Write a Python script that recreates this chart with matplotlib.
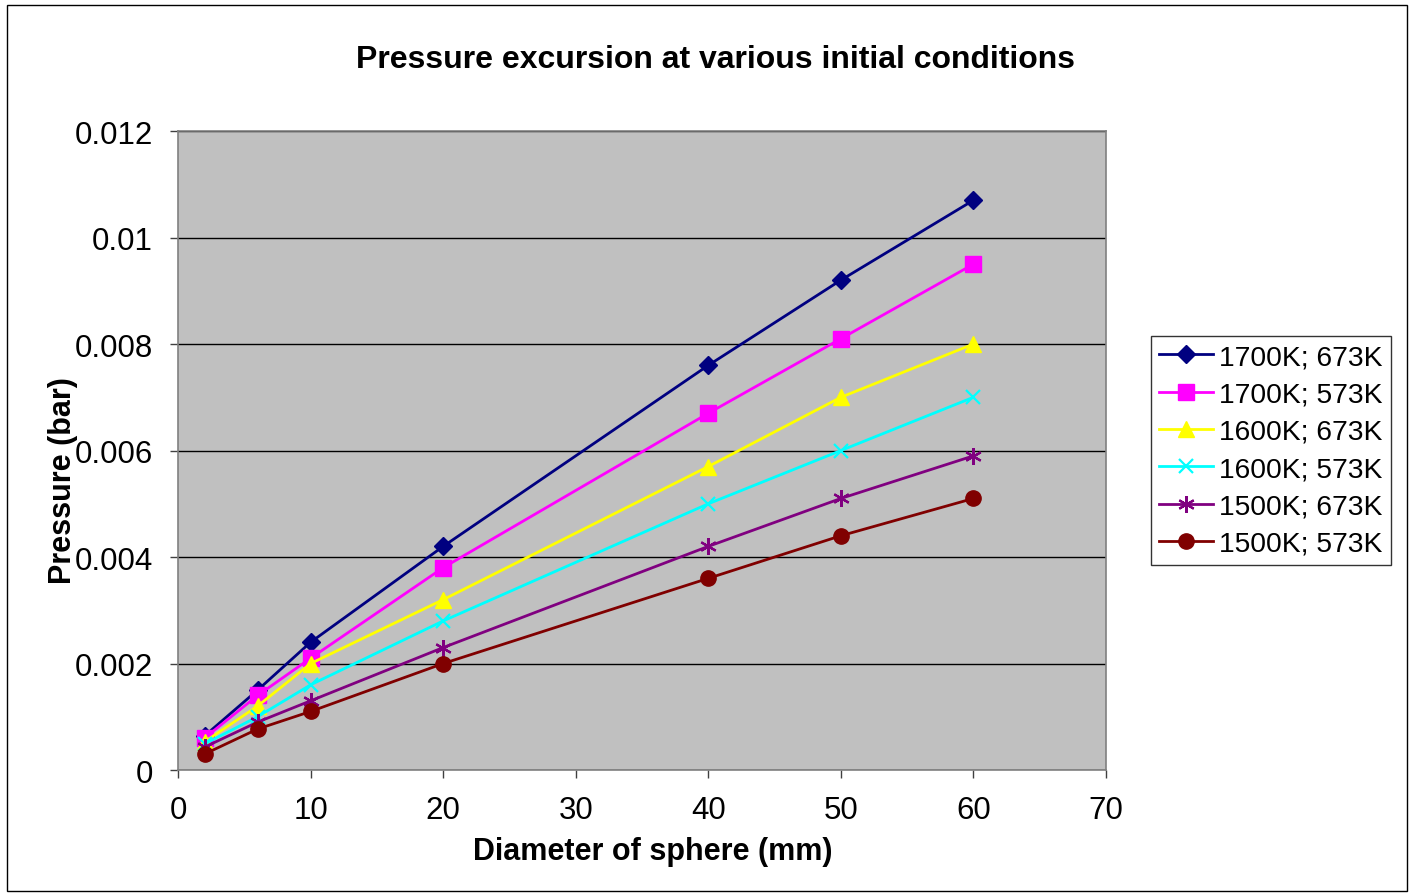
import matplotlib.pyplot as plt
from matplotlib.patches import Rectangle
from matplotlib.ticker import FuncFormatter, MultipleLocator

plt.rcParams['font.family'] = ['Liberation Sans', 'DejaVu Sans']

# diameter of sphere (mm)
diam = [2, 6, 10, 20, 40, 50, 60]

# pressure (bar)
p_1700_673 = [0.00064, 0.0015, 0.0024, 0.0042, 0.0076, 0.0092, 0.0107]
p_1700_573 = [0.00060, 0.0014, 0.0021, 0.0038, 0.0067, 0.0081, 0.0095]
p_1600_673 = [0.00053, 0.0012, 0.0020, 0.0032, 0.0057, 0.0070, 0.0080]
p_1600_573 = [0.00049, 0.0010, 0.0016, 0.0028, 0.0050, 0.0060, 0.0070]
p_1500_673 = [0.00043, 0.0009, 0.0013, 0.0023, 0.0042, 0.0051, 0.0059]
p_1500_573 = [0.00030, 0.00077, 0.0011, 0.0020, 0.0036, 0.0044, 0.0051]

labels = ['1700K; 673K', '1700K; 573K', '1600K; 673K',
          '1600K; 573K', '1500K; 673K', '1500K; 573K']
series = [p_1700_673, p_1700_573, p_1600_673, p_1600_573, p_1500_673, p_1500_573]
colors = ['#000080', '#FF00FF', '#FFFF00', '#00FFFF', '#800080', '#800000']
markers = ['D', 's', '^', 'x', '*', 'o']
msizes = [9, 11, 11, 10, 12, 11]

fig = plt.figure(figsize=(14.14, 8.95), dpi=100)
fig.patches.append(Rectangle((0.005, 0.003), 0.99, 0.99, transform=fig.transFigure,
                             fill=False, edgecolor='black', linewidth=1))
ax = fig.add_axes([0.1259, 0.1385, 0.6563, 0.714])
ax.set_facecolor('#C0C0C0')

for y, lab, c, m, ms in zip(series, labels, colors, markers, msizes):
    if m in ('x', '*'):
        ax.plot(diam, y, color=c, marker='x' if m == 'x' else (6, 2, 0), markersize=ms,
                markeredgewidth=1.6, linewidth=2, label=lab, zorder=3)
    else:
        ax.plot(diam, y, color=c, marker=m, markersize=ms, markeredgecolor=c,
                linewidth=2, label=lab, zorder=3)

ax.set_xlim(0, 70)
ax.set_ylim(0, 0.012)
ax.xaxis.set_major_locator(MultipleLocator(10))
ax.yaxis.set_major_locator(MultipleLocator(0.002))
ax.yaxis.set_major_formatter(FuncFormatter(lambda v, p: '{:g}'.format(round(v, 6))))
ax.tick_params(labelsize=22.5, length=6, pad=12, direction='out', width=1, color='#404040')
ax.grid(axis='y', color='black', linewidth=1)
ax.set_axisbelow(True)
for s in ax.spines.values():
    s.set_color('#808080')
    s.set_linewidth(1.2)

fig.text(0.506, 0.933, 'Pressure excursion at various initial conditions',
         fontsize=23, fontweight='bold', ha='center', va='center')
ax.set_xlabel('Diameter of sphere (mm)', fontsize=22, fontweight='bold')
ax.xaxis.set_label_coords(0.512, -0.103)
ax.set_ylabel('Pressure (bar)', fontsize=22, fontweight='bold')
ax.yaxis.set_label_coords(-0.108, 0.455)

leg = ax.legend(loc='center left', bbox_to_anchor=(1.0485, 0.5), fontsize=20.3,
                frameon=True, fancybox=False, edgecolor='black', handlelength=1.9,
                borderpad=0.3, labelspacing=0.4, handletextpad=0.2, borderaxespad=0)
leg.get_frame().set_linewidth(1)

fig.savefig('out.png', dpi=100)
